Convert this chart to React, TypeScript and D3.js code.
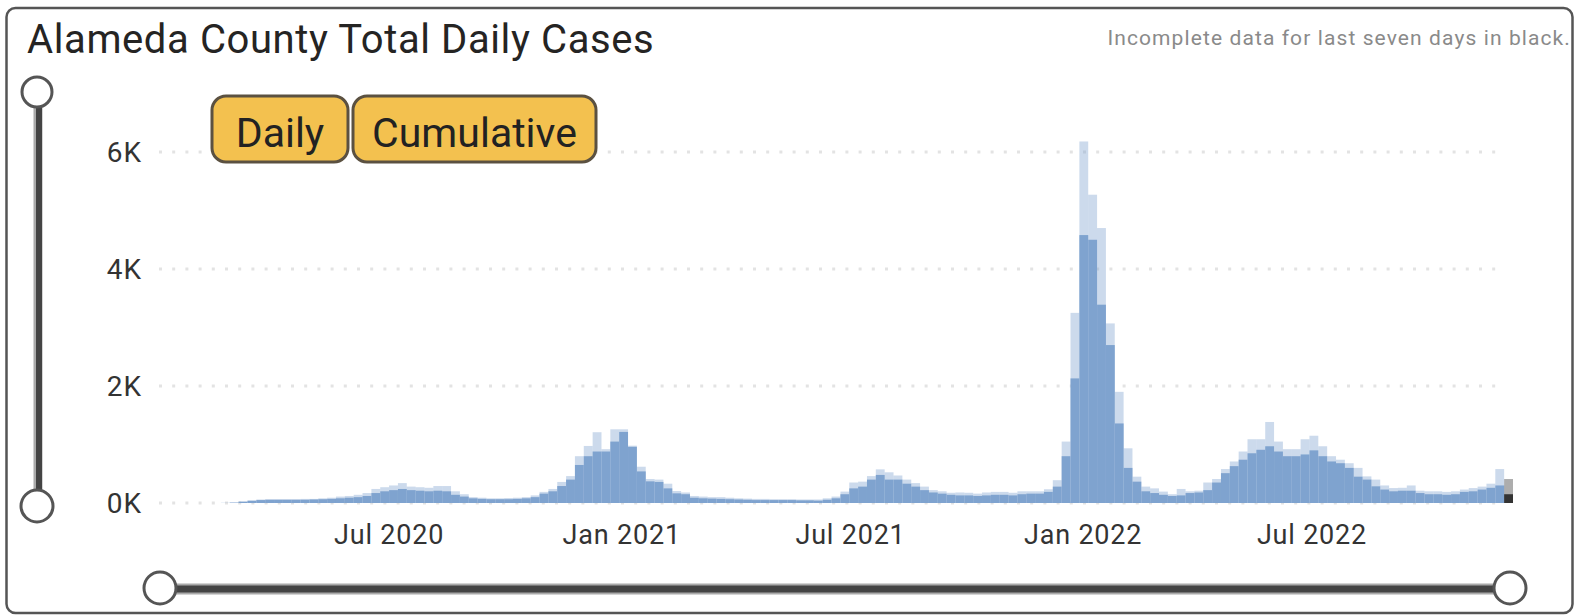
import React from 'react';
import * as d3 from 'd3';

// first day of the first weekly bin, and the day after the last
const firstDay = new Date(2020, 0, 1);
const lastDay = new Date(2022, 11, 7);

// weekly upper envelope of daily cases (light tips)
const weeklyHigh = [
  0, 0, 0, 0, 0, 0, 0, 3, 12, 30, 50, 60, 65, 65, 65, 65, 70, 70, 80, 90,
  110, 120, 140, 170, 240, 270, 300, 340, 280, 270, 260, 290, 290, 200, 150, 100, 90, 80, 80, 85,
  90, 100, 130, 190, 240, 360, 460, 800, 975, 1210, 920, 1260, 1260, 980, 620, 410, 400, 330, 205, 180,
  120, 110, 100, 100, 90, 80, 75, 70, 70, 65, 65, 65, 60, 60, 60, 80, 110, 195, 350, 365,
  460, 575, 525, 470, 400, 340, 280, 220, 200, 175, 180, 175, 160, 180, 190, 190, 175, 200, 200, 200,
  235, 390, 1050, 3250, 6180, 5270, 4700, 3070, 1900, 935, 450, 280, 250, 195, 150, 240, 200, 210, 350, 410,
  580, 710, 880, 1090, 1090, 1385, 1050, 920, 920, 1090, 1150, 970, 800, 740, 680, 600, 455, 400, 300, 255,
  260, 300, 210, 200, 200, 190, 200, 230, 255, 280, 330, 580, 410,
];

// weekly lower envelope of daily cases (solid body)
const weeklyLow = [
  0, 0, 0, 0, 0, 0, 0, 1, 5, 20, 35, 50, 55, 55, 55, 55, 55, 60, 65, 70,
  80, 90, 100, 120, 170, 200, 220, 240, 220, 210, 200, 210, 200, 140, 110, 80, 70, 65, 65, 65,
  70, 80, 100, 160, 200, 290, 400, 650, 800, 880, 880, 1050, 1215, 960, 540, 370, 360, 250, 165, 150,
  90, 80, 75, 70, 65, 60, 55, 50, 50, 50, 50, 50, 45, 45, 40, 55, 80, 150, 250, 280,
  400, 480, 400, 400, 330, 280, 220, 180, 160, 140, 130, 130, 120, 130, 140, 140, 130, 150, 160, 160,
  190, 280, 800, 2130, 4580, 4500, 3390, 2700, 1360, 600, 365, 200, 170, 140, 120, 130, 170, 180, 220, 350,
  510, 630, 740, 850, 910, 970, 880, 800, 800, 830, 900, 800, 710, 680, 600, 450, 400, 285, 230, 200,
  210, 210, 170, 150, 150, 140, 150, 190, 200, 230, 260, 300, 150,
];

const yTickValues = [0, 2000, 4000, 6000];
const yTickLabels = ['0K', '2K', '4K', '6K'];
const xTickDates = [new Date(2020, 6, 1), new Date(2021, 0, 1), new Date(2021, 6, 1), new Date(2022, 0, 1), new Date(2022, 6, 1)];
const xTickLabels = ['Jul 2020', 'Jan 2021', 'Jul 2021', 'Jan 2022', 'Jul 2022'];
const buttons = ['Daily', 'Cumulative'];

const App = () => {
  const width = 1579;
  const height = 615;
  const font = 'Roboto, "Noto Sans", sans-serif';
  const barColor = '#7fa3cf';

  const xScale = d3.scaleTime().domain([firstDay, lastDay]).range([159, 1513]);
  const yScale = d3.scaleLinear().domain([0, 6000]).range([503, 152]);

  const weeks = weeklyHigh.map((hi, i) => ({
    start: d3.timeDay.offset(firstDay, 7 * i),
    end: d3.timeDay.offset(firstDay, 7 * (i + 1)),
    hi,
    lo: weeklyLow[i],
    incomplete: i === weeklyHigh.length - 1,
  }));

  const buttonBoxes = [
    { x: 212, w: 136 },
    { x: 353, w: 243 },
  ];

  return (
    <svg width={width} height={height} style={{ position: 'absolute', left: 0, top: 0, background: '#fff' }}>
      <rect x={6.5} y={8} width={1566} height={605} rx={9} fill='#fff' stroke='#555' strokeWidth={2.5} />

      <text x={27} y={53} fontFamily={font} fontSize={40} letterSpacing={0.6} fill='#252423'>Alameda County Total Daily Cases</text>
      <text x={1571} y={45} textAnchor='end' fontFamily={font} fontSize={21} letterSpacing={1.1} fill='#8a8a8a'>Incomplete data for last seven days in black.</text>

      {/* gridlines */}
      {yTickValues.map((d, i) =>
        <g key={`grid-${d}`}>
          <line x1={159} x2={1505} y1={yScale(d)} y2={yScale(d)} stroke='#e3e3e3' strokeWidth={3} strokeDasharray='3,10.2' />
          <text x={142} y={yScale(d)} dy='0.36em' textAnchor='end' fontFamily={font} fontSize={28} letterSpacing={1} fill='#333'>{yTickLabels[i]}</text>
        </g>
      )}

      {/* bars */}
      {weeks.map((d, i) =>
        <g key={`bar-${i}`}>
          <rect x={xScale(d.start)} y={yScale(d.hi)} width={xScale(d.end) - xScale(d.start)} height={yScale(0) - yScale(d.hi)}
            fill={d.incomplete ? '#333' : barColor} opacity={0.4} />
          <rect x={xScale(d.start)} y={yScale(d.lo)} width={xScale(d.end) - xScale(d.start)} height={yScale(0) - yScale(d.lo)}
            fill={d.incomplete ? '#333' : barColor} />
        </g>
      )}

      {xTickDates.map((d, i) =>
        <text key={`x-${i}`} x={xScale(d)} y={544} textAnchor='middle' fontFamily={font} fontSize={27} letterSpacing={0.8} fill='#333'>{xTickLabels[i]}</text>
      )}

      {/* buttons */}
      {buttons.map((b, i) =>
        <g key={`btn-${b}`}>
          <rect x={buttonBoxes[i].x} y={96} width={buttonBoxes[i].w} height={66} rx={14} fill='#f3c14f' stroke='#5b5141' strokeWidth={3} />
          <text x={buttonBoxes[i].x + buttonBoxes[i].w / 2} y={147} textAnchor='middle' fontFamily={font} fontSize={41} fill='#222'>{b}</text>
        </g>
      )}

      {/* vertical slider */}
      <line x1={38} x2={38} y1={92} y2={506} stroke='#aaa' strokeWidth={9} />
      <line x1={39} x2={39} y1={92} y2={506} stroke='#444' strokeWidth={6} />
      <circle cx={37} cy={92} r={15} fill='#fff' stroke='#555' strokeWidth={3} />
      <circle cx={37} cy={506} r={16} fill='#fff' stroke='#555' strokeWidth={3} />

      {/* horizontal slider */}
      <line x1={160} x2={1510} y1={589} y2={589} stroke='#aaa' strokeWidth={11} />
      <line x1={160} x2={1510} y1={589} y2={589} stroke='#444' strokeWidth={7} />
      <circle cx={160} cy={588} r={16} fill='#fff' stroke='#555' strokeWidth={3} />
      <circle cx={1510} cy={588} r={16} fill='#fff' stroke='#555' strokeWidth={3} />
    </svg>
  );
};

export default App;
